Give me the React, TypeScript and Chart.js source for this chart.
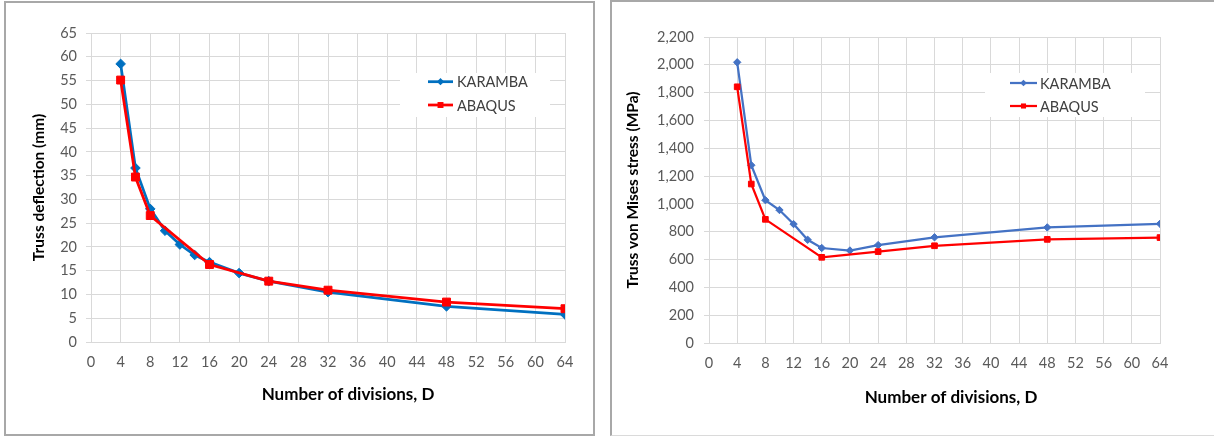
import React, { useEffect, useRef } from 'react';
import { Chart, registerables } from 'chart.js';

Chart.register(...registerables);

// ---------- data ----------
const divisionsKaramba = [4, 6, 8, 10, 12, 14, 16, 20, 24, 32, 48, 64];
const divisionsAbaqus = [4, 6, 8, 16, 24, 32, 48, 64];
const deflectionKaramba = [58.5, 36.6, 28.0, 23.4, 20.5, 18.3, 16.8, 14.5, 12.8, 10.5, 7.5, 5.8];
const deflectionAbaqus = [55.1, 34.7, 26.6, 16.3, 12.8, 10.9, 8.4, 7.0];
const stressKaramba = [2018, 1278, 1027, 956, 855, 742, 683, 665, 704, 760, 831, 857];
const stressAbaqus = [1842, 1143, 889, 616, 657, 699, 745, 758];
const seriesLabels = ['KARAMBA', 'ABAQUS'];
const xTitle = 'Number of divisions, D';
const deflectionTitle = 'Truss deflection (mm)';
const stressTitle = 'Truss von Mises stress (MPa)';

const FONT = 'Lato, "Open Sans", sans-serif';
const GRID = '#D9D9D9';

type LegendOpts = {
  x: number; y: number; w: number; h: number;
  lineX0: number; lineX1: number; textX: number; rowY: number[];
  markerScale: number;
};

const insetLegend = {
  id: 'insetLegend',
  afterDatasetsDraw(chart: any, _args: any, opts: LegendOpts) {
    if (!opts || opts.w === undefined) return;
    const ctx: CanvasRenderingContext2D = chart.ctx;
    ctx.save();
    ctx.fillStyle = '#ffffff';
    ctx.fillRect(opts.x, opts.y, opts.w, opts.h);
    chart.data.datasets.forEach((ds: any, i: number) => {
      const y = opts.rowY[i];
      ctx.strokeStyle = ds.borderColor;
      ctx.lineWidth = ds.borderWidth;
      ctx.beginPath();
      ctx.moveTo(opts.lineX0, y);
      ctx.lineTo(opts.lineX1, y);
      ctx.stroke();
      const cx = (opts.lineX0 + opts.lineX1) / 2;
      const r = ds.pointRadius * opts.markerScale;
      ctx.fillStyle = ds.pointBackgroundColor;
      ctx.beginPath();
      if (ds.pointStyle === 'rectRot') {
        ctx.moveTo(cx, y - r);
        ctx.lineTo(cx + r, y);
        ctx.lineTo(cx, y + r);
        ctx.lineTo(cx - r, y);
        ctx.closePath();
      } else {
        const s = r * Math.SQRT1_2;
        ctx.rect(cx - s, y - s, 2 * s, 2 * s);
      }
      ctx.fill();
      ctx.fillStyle = '#404040';
      ctx.font = `14.5px ${FONT}`;
      ctx.textAlign = 'left';
      ctx.textBaseline = 'middle';
      ctx.fillText(ds.label, opts.textX, y + 1);
    });
    ctx.restore();
  },
};

type XTitleOpts = { text: string; cx: number; cy: number; size: number };

// x-axis title, centred where the reference places it
const xAxisTitle = {
  id: 'xAxisTitle',
  afterDraw(chart: any, _args: any, opts: XTitleOpts) {
    if (!opts || !opts.text) return;
    const ctx: CanvasRenderingContext2D = chart.ctx;
    ctx.save();
    ctx.fillStyle = '#000000';
    ctx.font = `bold ${opts.size}px ${FONT}`;
    ctx.textAlign = 'center';
    ctx.textBaseline = 'middle';
    ctx.fillText(opts.text, opts.cx, opts.cy);
    ctx.restore();
  },
};

type ChartCfg = {
  width: number;
  height: number;
  karamba: number[];
  abaqus: number[];
  karambaColor: string;
  yMax: number;
  yStep: number;
  yTitle: string;
  plotLeft: number;
  plotRight: number;
  plotTop: number;
  plotBottom: number;
  yTitleOffset: number;
  yTickPad: number;
  lineWidth: number;
  karambaRadius: number;
  abaqusRadius: number;
  legend: LegendOpts;
  xTitle: XTitleOpts;
};

function LineChart({ cfg }: { cfg: ChartCfg }) {
  const ref = useRef<HTMLCanvasElement | null>(null);
  useEffect(() => {
    if (!ref.current) return;
    const tickFont = { family: FONT, size: 14.5 };
    const titleFont = { family: FONT, size: 15.5, weight: 'bold' as const };
    const chart = new Chart(ref.current, {
      type: 'line',
      data: {
        datasets: [
          {
            label: seriesLabels[0],
            data: divisionsKaramba.map((d, i) => ({ x: d, y: cfg.karamba[i] })),
            borderColor: cfg.karambaColor,
            backgroundColor: cfg.karambaColor,
            pointBackgroundColor: cfg.karambaColor,
            pointBorderColor: cfg.karambaColor,
            borderWidth: cfg.lineWidth,
            pointStyle: 'rectRot',
            pointRadius: cfg.karambaRadius,
            pointBorderWidth: 1,
            tension: 0,
            order: 2,
          } as any,
          {
            label: seriesLabels[1],
            data: divisionsAbaqus.map((d, i) => ({ x: d, y: cfg.abaqus[i] })),
            borderColor: '#FF0000',
            backgroundColor: '#FF0000',
            pointBackgroundColor: '#FF0000',
            pointBorderColor: '#FF0000',
            borderWidth: cfg.lineWidth,
            pointStyle: 'rect',
            pointRadius: cfg.abaqusRadius,
            pointBorderWidth: 1,
            tension: 0,
            order: 1,
          } as any,
        ],
      },
      options: {
        animation: false,
        responsive: false,
        locale: 'en-US',
        layout: {
          padding: {
            left: 0,
            top: cfg.plotTop,
            right: cfg.width - cfg.plotRight,
            bottom: 0,
          },
        },
        plugins: {
          legend: { display: false },
          tooltip: { enabled: false },
          insetLegend: cfg.legend,
          xAxisTitle: cfg.xTitle,
        } as any,
        scales: {
          x: {
            type: 'linear',
            min: 0,
            max: 64,
            ticks: {
              stepSize: 4,
              padding: 12,
              font: tickFont,
              color: '#595959',
              maxRotation: 0,
              autoSkip: false,
            },
            grid: { color: GRID, drawTicks: false, lineWidth: 1 },
            border: { color: GRID, width: 1 },
            title: { display: false },
            afterFit: (s: any) => {
              s.height = cfg.height - cfg.plotBottom;
            },
          },
          y: {
            type: 'linear',
            min: 0,
            max: cfg.yMax,
            ticks: {
              stepSize: cfg.yStep,
              padding: cfg.yTickPad,
              font: tickFont,
              color: '#595959',
            },
            grid: { color: GRID, tickLength: 5, lineWidth: 1 },
            border: { color: GRID, width: 1 },
            title: {
              display: true,
              text: cfg.yTitle,
              font: titleFont,
              color: '#000000',
              padding: { top: cfg.yTitleOffset, bottom: 0 },
            },
            afterFit: (s: any) => {
              s.width = cfg.plotLeft;
            },
          },
        },
      } as any,
      plugins: [insetLegend, xAxisTitle],
    });
    return () => chart.destroy();
  }, [cfg]);
  return (
    <canvas
      ref={ref}
      width={cfg.width}
      height={cfg.height}
      style={{ display: 'block', width: cfg.width, height: cfg.height }}
    />
  );
}

const leftCfg: ChartCfg = {
  width: 587,
  height: 431,
  karamba: deflectionKaramba,
  abaqus: deflectionAbaqus,
  karambaColor: '#0070C0',
  yMax: 65,
  yStep: 5,
  yTitle: deflectionTitle,
  plotLeft: 85,
  plotRight: 559,
  plotTop: 30,
  plotBottom: 339,
  yTitleOffset: 23.2,
  yTickPad: 9,
  lineWidth: 2.75,
  karambaRadius: 4.8,
  abaqusRadius: 5.6,
  legend: {
    x: 394, y: 70, w: 150, h: 44,
    lineX0: 422, lineX1: 447, textX: 451, rowY: [78.7, 102],
    markerScale: 0.75,
  },
  xTitle: { text: xTitle, cx: 342, cy: 392, size: 17 },
};

const rightCfg: ChartCfg = {
  width: 602,
  height: 433,
  karamba: stressKaramba,
  abaqus: stressAbaqus,
  karambaColor: '#4472C4',
  yMax: 2200,
  yStep: 200,
  yTitle: stressTitle,
  plotLeft: 97,
  plotRight: 548,
  plotTop: 35,
  plotBottom: 341,
  yTitleOffset: 11.2,
  yTickPad: 10,
  lineWidth: 2.25,
  karambaRadius: 3.7,
  abaqusRadius: 4,
  legend: {
    x: 373, y: 71, w: 160, h: 44,
    lineX0: 398, lineX1: 425, textX: 428, rowY: [81, 104],
    markerScale: 0.9,
  },
  xTitle: { text: xTitle, cx: 339, cy: 396, size: 17 },
};

export default function App() {
  return (
    <div
      style={{
        position: 'absolute',
        left: 0,
        top: 0,
        width: 1214,
        height: 436,
        background: '#ffffff',
        overflow: 'hidden',
      }}
    >
      <div
        style={{
          position: 'absolute',
          left: 4,
          top: 1,
          width: 591,
          height: 435,
          boxSizing: 'border-box',
          border: '2px solid #A8A8A8',
        }}
      >
        <LineChart cfg={leftCfg} />
      </div>
      <div
        style={{
          position: 'absolute',
          left: 610,
          top: 0,
          width: 604,
          height: 436,
          boxSizing: 'border-box',
          borderLeft: '2px solid #A8A8A8',
          borderTop: '2px solid #A8A8A8',
          borderBottom: '1px solid #DADADA',
        }}
      >
        <LineChart cfg={rightCfg} />
      </div>
    </div>
  );
}
